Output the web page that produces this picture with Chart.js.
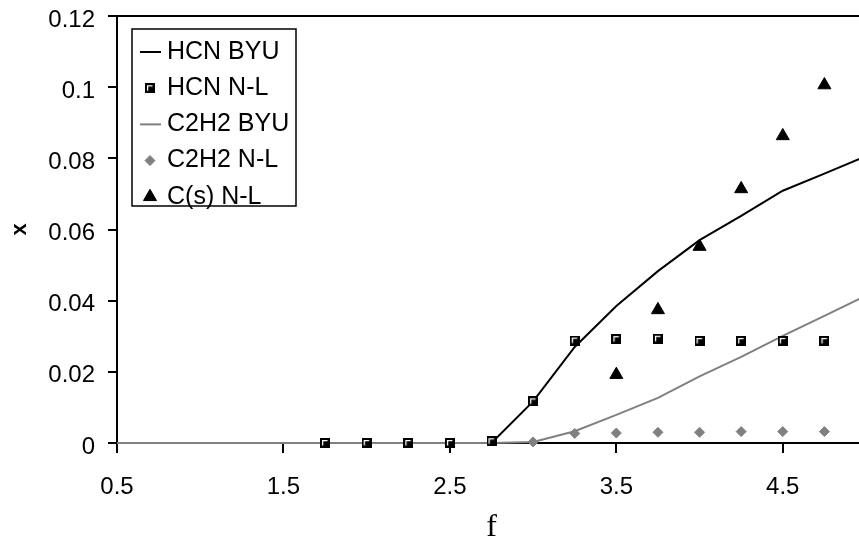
<!DOCTYPE html>
<html>
<head>
<meta charset="utf-8">
<script src="https://cdn.jsdelivr.net/npm/chart.js@4.4.1/dist/chart.umd.min.js"></script>
<style>
  html, body { margin: 0; padding: 0; background: #fff; overflow: hidden; }
  #wrap { width: 859px; height: 542px; overflow: hidden; }
</style>
</head>
<body>
<div id="wrap"><canvas id="chart" width="866" height="542"></canvas></div>
<script>
const xTicks = [0.5, 1.5, 2.5, 3.5, 4.5];
const yTicks = [0, 0.02, 0.04, 0.06, 0.08, 0.1, 0.12];

// model curves (BYU)
const byuF = [0.5, 1.0, 1.5, 2.0, 2.5, 2.75, 3.0, 3.25, 3.5, 3.75, 4.0, 4.25, 4.5, 4.75, 5.0];
const hcnByu = [0, 0, 0, 0, 0, 0, 0.0117, 0.027, 0.0385, 0.0483, 0.057, 0.0638, 0.0709, 0.0757, 0.0806];
const c2h2Byu = [0, 0, 0, 0, 0, 0, 0.0003, 0.0033, 0.0079, 0.0127, 0.0187, 0.0242, 0.0301, 0.0357, 0.0414];

// N-L points
const hcnNlF = [1.75, 2.0, 2.25, 2.5, 2.75, 3.0, 3.25, 3.5, 3.75, 4.0, 4.25, 4.5, 4.75];
const hcnNl = [0, 0, 0, 0, 0.0005, 0.0117, 0.0288, 0.0292, 0.0293, 0.0287, 0.0287, 0.0287, 0.0287];
const c2h2NlF = [3.0, 3.25, 3.5, 3.75, 4.0, 4.25, 4.5, 4.75];
const c2h2Nl = [0.0003, 0.0027, 0.0028, 0.003, 0.003, 0.0032, 0.0032, 0.0032];
const csNlF = [3.5, 3.75, 4.0, 4.25, 4.5, 4.75];
const csNl = [0.0192, 0.0374, 0.0552, 0.0714, 0.0863, 0.1006];

const pts = (xs, ys) => xs.map((x, i) => ({ x: x, y: ys[i] }));

// black square marker with the little white corner
const sq = document.createElement('canvas');
sq.width = 10; sq.height = 10;
(function () {
    const c = sq.getContext('2d');
    c.fillStyle = '#000';
    c.fillRect(0, 0, 10, 10);
    c.strokeStyle = '#fff';
    c.lineWidth = 1.3;
    c.beginPath();
    c.moveTo(2.6, 7.5);
    c.lineTo(2.6, 2.6);
    c.lineTo(7.5, 2.6);
    c.stroke();
})();

Chart.defaults.font.family = '"Liberation Sans", Arial, sans-serif';
Chart.defaults.color = '#000';

const frameAndLegend = {
    id: 'frameAndLegend',
    afterDraw(chart) {
        const ctx = chart.ctx;
        const area = chart.chartArea;
        ctx.save();
        ctx.strokeStyle = '#000';
        ctx.lineWidth = 2;
        ctx.beginPath();
        ctx.moveTo(area.left, area.top);
        ctx.lineTo(chart.width, area.top);
        ctx.stroke();

        // legend box
        ctx.fillStyle = '#fff';
        ctx.fillRect(132, 29, 164, 177);
        ctx.lineWidth = 1.5;
        ctx.strokeRect(132, 29, 164, 177);

        chart.data.datasets.forEach(function (ds, i) {
            const y = 52 + i * 36.2;
            if (ds.showLine) {
                ctx.strokeStyle = ds.borderColor;
                ctx.lineWidth = 2;
                ctx.beginPath();
                ctx.moveTo(140, y);
                ctx.lineTo(161, y);
                ctx.stroke();
            } else {
                ctx.fillStyle = ds.pointBackgroundColor;
                ctx.strokeStyle = ds.pointBorderColor;
                ctx.lineWidth = ds.pointBorderWidth;
                Chart.helpers.drawPoint(ctx, {
                    pointStyle: ds.pointStyle,
                    radius: ds.pointRadius,
                    borderWidth: ds.pointBorderWidth,
                    rotation: 0
                }, 150, y);
            }
            ctx.fillStyle = '#000';
            ctx.font = '25px "Liberation Sans", Arial, sans-serif';
            ctx.textBaseline = 'middle';
            ctx.textAlign = 'left';
            ctx.fillText(ds.label, 167, y);
        });
        ctx.restore();
    }
};

new Chart('chart', {
    type: 'scatter',
    data: {
        datasets: [
            {
                label: 'HCN BYU',
                data: pts(byuF, hcnByu),
                showLine: true,
                borderColor: '#000',
                borderWidth: 2,
                pointRadius: 0,
                clip: false,
                order: 4
            },
            {
                label: 'HCN N-L',
                data: pts(hcnNlF, hcnNl),
                pointStyle: sq,
                pointRadius: 5,
                pointBackgroundColor: '#000',
                pointBorderColor: '#000',
                pointBorderWidth: 0,
                clip: false,
                order: 1
            },
            {
                label: 'C2H2 BYU',
                data: pts(byuF, c2h2Byu),
                showLine: true,
                borderColor: '#808080',
                borderWidth: 2,
                pointRadius: 0,
                clip: false,
                order: 3
            },
            {
                label: 'C2H2 N-L',
                data: pts(c2h2NlF, c2h2Nl),
                pointStyle: 'rectRot',
                pointRadius: 5,
                pointBackgroundColor: '#808080',
                pointBorderColor: '#808080',
                pointBorderWidth: 1,
                clip: false,
                order: 2
            },
            {
                label: 'C(s) N-L',
                data: pts(csNlF, csNl),
                pointStyle: 'triangle',
                pointRadius: 7.5,
                pointBackgroundColor: '#000',
                pointBorderColor: '#000',
                pointBorderWidth: 1,
                clip: false,
                order: 0
            }
        ]
    },
    options: {
        responsive: false,
        animation: false,
        events: [],
        layout: { autoPadding: false, padding: { top: 16, right: 0, left: 0, bottom: 0 } },
        plugins: {
            legend: { display: false },
            tooltip: { enabled: false }
        },
        scales: {
            x: {
                type: 'linear',
                min: 0.5,
                max: 5,
                afterBuildTicks: function (s) { s.ticks = xTicks.map(v => ({ value: v })); },
                afterFit: function (s) {
                    s.height = 99;
                    s.paddingLeft = 0; s.paddingRight = 0;
                },
                border: { color: '#000', width: 2 },
                grid: { drawOnChartArea: false, color: '#000', lineWidth: 2, tickLength: 10 },
                ticks: {
                    font: { size: 24 },
                    color: '#000',
                    padding: 20,
                    maxRotation: 0,
                    autoSkip: false,
                    callback: v => String(v)
                },
                title: {
                    display: true,
                    text: 'f',
                    color: '#000',
                    font: { family: '"Liberation Serif", "Times New Roman", serif', size: 32, lineHeight: 0.875 },
                    padding: 0
                }
            },
            y: {
                min: 0,
                max: 0.12,
                afterBuildTicks: function (s) { s.ticks = yTicks.map(v => ({ value: v })); },
                afterFit: function (s) {
                    s.width = 117;
                    s.paddingTop = 0; s.paddingBottom = 0;
                },
                border: { color: '#000', width: 2 },
                grid: { drawOnChartArea: false, color: '#000', lineWidth: 2, tickLength: 9 },
                ticks: {
                    font: { size: 24 },
                    color: '#000',
                    padding: 13,
                    labelOffset: 4,
                    callback: v => String(v)
                },
                title: {
                    display: true,
                    text: 'x',
                    color: '#000',
                    font: { size: 22, weight: 'bold' },
                    padding: { top: 7, bottom: 0 }
                }
            }
        }
    },
    plugins: [frameAndLegend]
});
</script>
</body>
</html>
